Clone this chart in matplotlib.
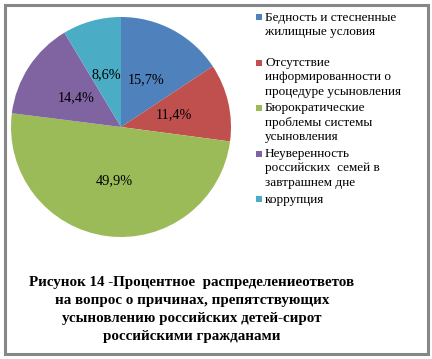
import matplotlib.pyplot as plt
from matplotlib.patches import Rectangle

labels = [
    "Бедность и стесненные\nжилищные условия",
    "Отсутствие\nинформированности о\nпроцедуре усыновления",
    "Бюрократические\nпроблемы системы\nусыновления",
    "Неуверенность\nроссийских  семей в\nзавтрашнем дне",
    "коррупция",
]
values = [15.7, 11.4, 49.9, 14.4, 8.6]
colors = ["#4F81BD", "#C0504D", "#9BBB59", "#8064A2", "#4BACC6"]
caption = ("Рисунок 14 -Процентное  распределениеответов\n"
           "на вопрос о причинах, препятствующих\n"
           "усыновлению российских детей-сирот\n"
           "российскими гражданами")

W, H = 432, 359
fig = plt.figure(figsize=(W / 100, H / 100), dpi=100)
fig.patch.set_facecolor("white")

# outer frame
fig.add_artist(Rectangle((5 / W, 5 / H), (W - 9) / W, (H - 10) / H,
                         transform=fig.transFigure, fill=False,
                         edgecolor="#878787", linewidth=2.2))

# pie: center (121,127), radius 110 px
r = 110
ax = fig.add_axes([(121 - r) / W, 1 - (127 + r) / H, 2 * r / W, 2 * r / H])
wedges, texts = ax.pie(values, colors=colors, startangle=90, counterclock=False,
                       labels=[f"{v:.1f}%".replace(".", ",") for v in values],
                       labeldistance=0.49, radius=1,
                       textprops=dict(family="Liberation Serif", fontsize=10.3,
                                      ha="center", va="center"))
ax.set_xlim(-1, 1)
ax.set_ylim(-1, 1)
ax.set_aspect("equal")

# legend, drawn by hand to keep square aligned with first line
line_h = 14.5
y = 17
for lab, col, extra in zip(labels, colors, [1, 0, 0, 0, 0]):
    n = lab.count("\n") + 1
    fig.add_artist(Rectangle((256 / W, 1 - (y + 3) / H), 6 / W, 6 / H,
                             transform=fig.transFigure, facecolor=col,
                             edgecolor="none"))
    fig.text(265 / W, 1 - (y - 5.5) / H, lab, ha="left", va="top",
             family="Liberation Serif", fontsize=9.5, linespacing=1.26)
    y += (n + extra) * line_h + 2

fig.text(192 / W, 1 - 276 / H, caption, ha="center", va="top",
         family="Liberation Serif", fontsize=10.8, fontweight="bold",
         linespacing=1.5)

fig.savefig("out.png", dpi=100)
